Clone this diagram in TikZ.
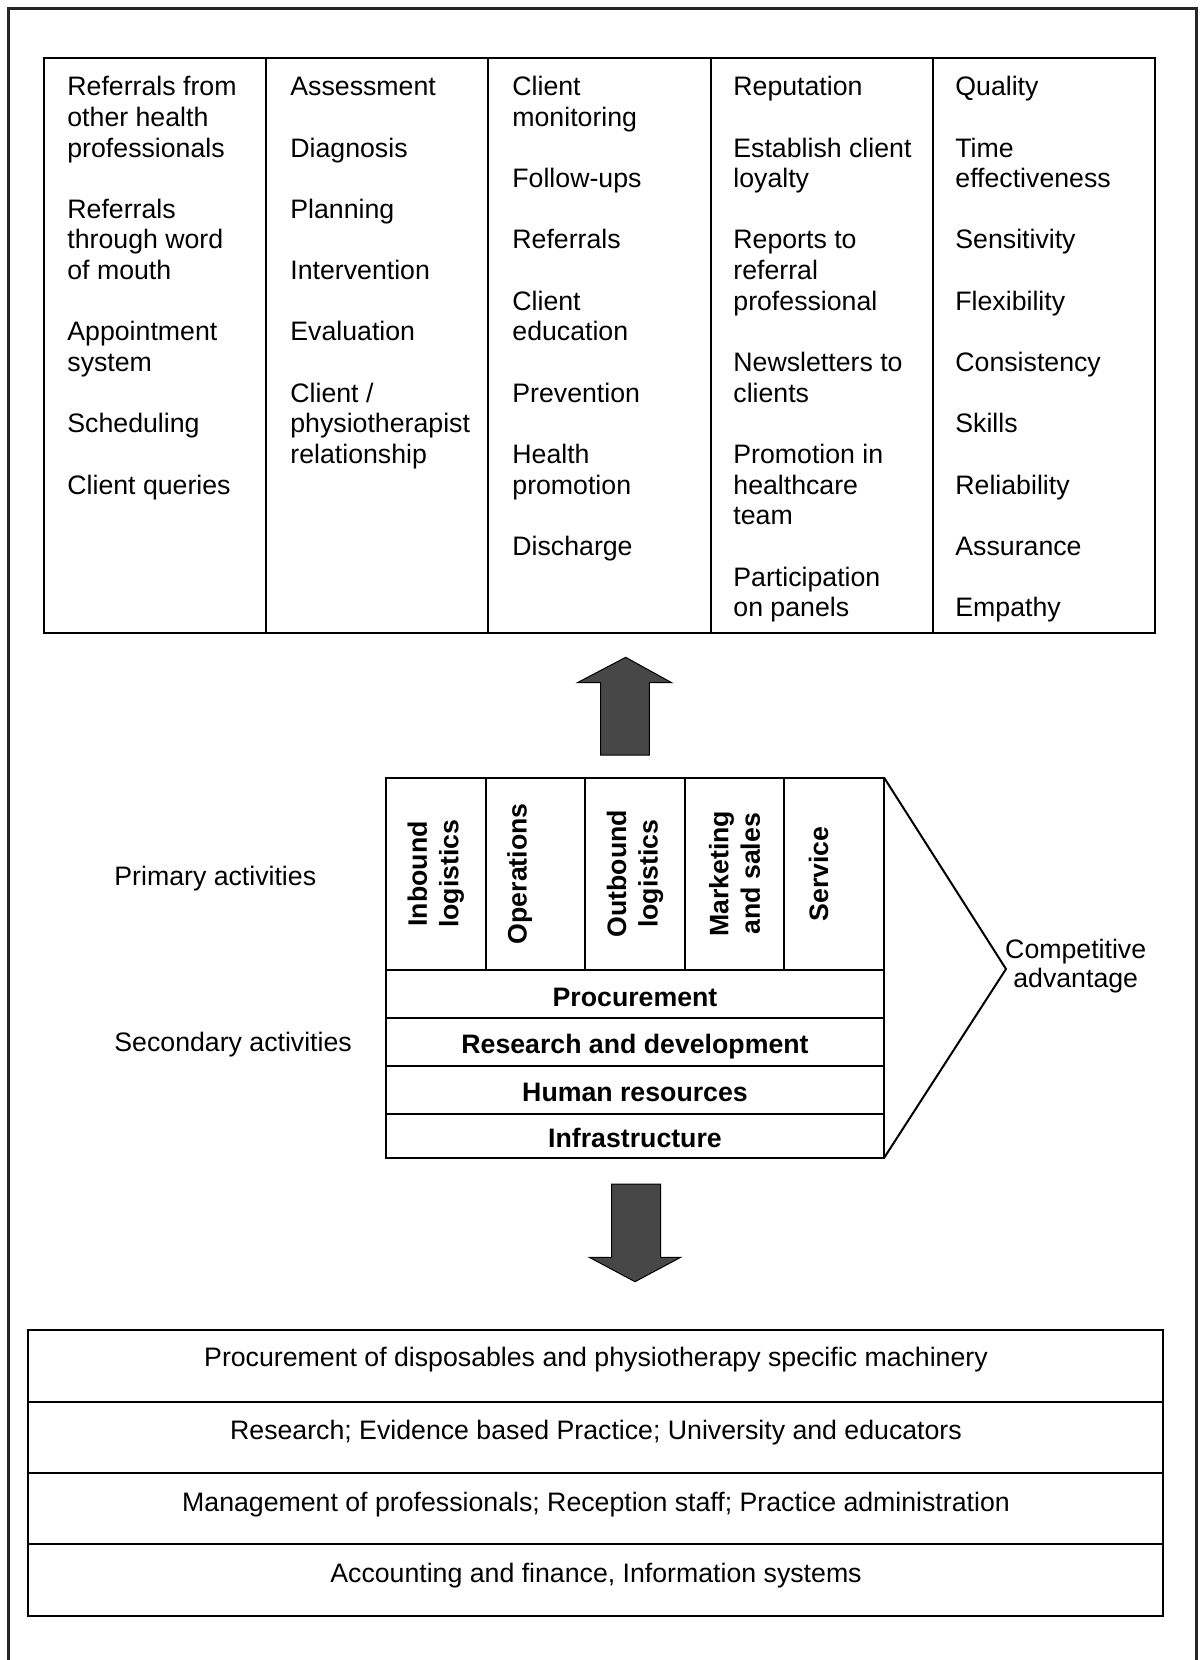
\documentclass[tikz,border=0pt]{standalone}
\usepackage{fontspec}
\setmainfont{Liberation Sans}
\begin{document}
\begin{tikzpicture}[x=0.5pt,y=-0.5pt,
  frame/.style={line width=1.5pt,black!85},
  grid/.style={line width=1pt,black},
  item/.style={anchor=base west,inner sep=0pt,font=\fontsize{13.35}{15.33}\selectfont},
  lbl/.style={anchor=base west,inner sep=0pt,font=\fontsize{13.35}{15.33}\selectfont},
  ctr/.style={anchor=base,inner sep=0pt,font=\fontsize{13.35}{15.33}\selectfont},
  act/.style={inner sep=0pt,rotate=90,align=center,font=\fontsize{13.35}{15.7}\selectfont\bfseries},
  support/.style={anchor=base,inner sep=0pt,font=\fontsize{13.35}{15.33}\selectfont\bfseries},
  blockarrow/.style={fill=black!72,draw=black,line width=0.5pt,line join=miter}]

\useasboundingbox (0,0) rectangle (1200,1660);
\fill[white] (0,0) rectangle (1200,1660);

% outer frame, open at the bottom
\draw[frame] (8,1660) -- (8,8) -- (1196,8) -- (1196,1660);

% ---------- upper table: five columns ----------
\draw[grid] (44,58) rectangle (1155,633);
\foreach \x in {266.2,488.4,710.6,932.8}
  \draw[grid] (\x,58) -- (\x,633);

\foreach \t/\k in {Referrals from/0, other health/1, professionals/2,
    Referrals/4, through word/5, of mouth/6, Appointment/8, system/9,
    Scheduling/11, Client queries/13}
  \node[item] (ca\k) at (67,{95.7+30.65*\k}) {\t};

\foreach \t/\k in {Assessment/0, Diagnosis/2, Planning/4, Intervention/6,
    Evaluation/8, {Client /}/10, physiotherapist/11, relationship/12}
  \node[item] (cb\k) at (290,{95.7+30.65*\k}) {\t};

\foreach \t/\k in {Client/0, monitoring/1, Follow-ups/3, Referrals/5,
    Client/7, education/8, Prevention/10, Health/12, promotion/13,
    Discharge/15}
  \node[item] (cc\k) at (512,{95.7+30.65*\k}) {\t};

\foreach \t/\k in {Reputation/0, Establish client/2, loyalty/3, Reports to/5,
    referral/6, professional/7, Newsletters to/9, clients/10,
    Promotion in/12, healthcare/13, team/14, Participation/16, on panels/17}
  \node[item] (cd\k) at (733,{95.7+30.65*\k}) {\t};

\foreach \t/\k in {Quality/0, Time/2, effectiveness/3, Sensitivity/5,
    Flexibility/7, Consistency/9, Skills/11, Reliability/13, Assurance/15,
    Empathy/17}
  \node[item] (ce\k) at (955,{95.7+30.65*\k}) {\t};

% ---------- upward block arrow ----------
\draw[blockarrow] (625.7,657.3) -- (671.7,682.7) -- (649.3,682.7) -- (649.3,755)
  -- (600.7,755) -- (600.7,682.7) -- (577.3,682.7) -- cycle;

% ---------- value chain ----------
\draw[grid] (386,777.5) rectangle (884,1158);
\foreach \y in {970,1018,1066,1114}
  \draw[grid] (386,\y) -- (884,\y);
\foreach \x in {485.6,585.2,684.8,784.4}
  \draw[grid] (\x,777.5) -- (\x,970);
\draw[grid,line join=miter] (884,777.5) -- (1006,969) -- (884,1158);

\node[act] (inb)  at (435.8,873.8) {Inbound\\logistics};
\node[act] (ops)  at (519.7,873.8) {Operations};
\node[act] (outb) at (635.0,873.8) {Outbound\\logistics};
\node[act] (mkt)  at (734.6,873.8) {Marketing\\and sales};
\node[act] (srv)  at (818.5,873.8) {Service};

\node[support] (proc)  at (635,1006)   {Procurement};
\node[support] (rnd)   at (635,1053.2) {Research and development};
\node[support] (hr)    at (635,1101.4) {Human resources};
\node[support] (infra) at (635,1147.6) {Infrastructure};

\node[lbl] (prim) at (114,885)    {Primary activities};
\node[lbl] (sec)  at (114,1051.7) {Secondary activities};

\node[ctr] (comp1) at (1075.7,958) {Competitive};
\node[ctr] (comp2) at (1075.7,987) {advantage};

% ---------- downward block arrow ----------
\draw[blockarrow] (611.7,1184) -- (660.7,1184) -- (660.7,1257.3) -- (680.7,1257.3)
  -- (635,1281.7) -- (589.3,1257.3) -- (611.7,1257.3) -- cycle;

% ---------- lower table ----------
\draw[grid] (28,1330) rectangle (1163,1616);
\foreach \y in {1401.5,1472.7,1544}
  \draw[grid] (28,\y) -- (1163,\y);

\node[ctr] (r1) at (596,1366.6) {Procurement of disposables and physiotherapy specific machinery};
\node[ctr] (r2) at (596,1439.6) {Research; Evidence based Practice; University and educators};
\node[ctr] (r3) at (596,1511.3) {Management of professionals; Reception staff; Practice administration};
\node[ctr] (r4) at (596,1582.3) {Accounting and finance, Information systems};
\end{tikzpicture}
\end{document}
